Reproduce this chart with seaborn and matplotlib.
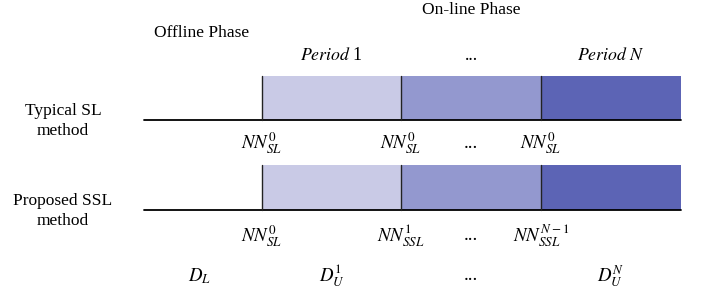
import matplotlib
matplotlib.use("Agg")
import matplotlib.pyplot as plt
import seaborn as sns

# period boundaries along the time axis (pixel-like units)
bounds = [262, 401, 541, 681]
axis_start = 144
seg_colors = ["#c9cae6", "#9398cf", "#5c64b5"]

row_names = ["Typical SL\nmethod", "Proposed SSL\nmethod"]
row_base = [120, 210]
row_top = [76, 165]

period_labels = [r"$\it{Period}$ 1", "...", r"$\it{Period\ N}$"]
sl_nodes = [r"$NN_{SL}^{0}$", r"$NN_{SL}^{0}$", "...", r"$NN_{SL}^{0}$"]
ssl_nodes = [r"$NN_{SL}^{0}$", r"$NN_{SSL}^{1}$", "...", r"$NN_{SSL}^{N-1}$"]
data_labels = [r"$D_L$", r"$D_U^1$", "...", r"$D_U^N$"]

sns.set_theme(style="white")
plt.rcParams["font.family"] = ["Liberation Serif", "DejaVu Serif"]
plt.rcParams["mathtext.fontset"] = "stix"
plt.rcParams["text.color"] = "black"

fig = plt.figure(figsize=(7.02, 2.93), dpi=100)
ax = fig.add_axes([0, 0, 1, 1])
ax.set_xlim(0, 702)
ax.set_ylim(293, 0)
ax.axis("off")

fs = 12.5
mfs = 13.5
for name, base, top in zip(row_names, row_base, row_top):
    lefts = bounds[:-1]
    widths = [b - a for a, b in zip(bounds[:-1], bounds[1:])]
    ax.barh([(base + top) / 2] * 3, widths, left=lefts, height=base - top,
            color=seg_colors, edgecolor="none")
    ax.plot([axis_start, bounds[-1]], [base, base], color="black", lw=1.3)
    for b in bounds[:-1]:
        ax.plot([b, b], [top, base], color="#222222", lw=1.0)
    ax.text(63, base + 1, name, ha="center", va="center", fontsize=fs,
            linespacing=1.3)

mids = [(a + b) / 2 for a, b in zip(bounds[:-1], bounds[1:])]
ax.text(202, 33, "Offline Phase", ha="center", va="center", fontsize=fs)
ax.text(471, 10, "On-line Phase", ha="center", va="center", fontsize=fs)
for x, lab in zip(mids, period_labels):
    ax.text(x, 56, lab, ha="center", va="center", fontsize=12.8)

node_x = [bounds[0], bounds[1], mids[1], bounds[2]]
for x, lab in zip(node_x, sl_nodes):
    ax.text(x, 143, lab, ha="center", va="center", fontsize=mfs)
for x, lab in zip(node_x, ssl_nodes):
    ax.text(x, 236, lab, ha="center", va="center", fontsize=mfs)

data_x = [200] + mids
for x, lab in zip(data_x, data_labels):
    ax.text(x, 276, lab, ha="center", va="center", fontsize=mfs)

fig.savefig("out.png", dpi=100, facecolor="white")
